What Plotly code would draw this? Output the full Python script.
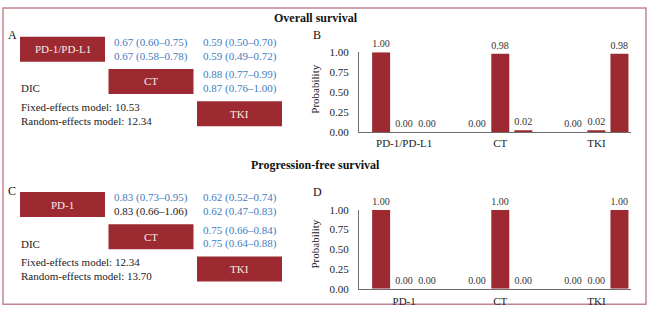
import plotly.graph_objects as go

W, H = 650, 314

# ---------------- data ----------------
os_treatments = ["PD-1/PD-L1", "CT", "TKI"]
pfs_treatments = ["PD-1", "CT", "TKI"]
rank_names = ["Rank 1", "Rank 2", "Rank 3"]

os_rank1 = [1.00, 0.00, 0.00]
os_rank2 = [0.00, 0.98, 0.02]
os_rank3 = [0.00, 0.02, 0.98]

pfs_rank1 = [1.00, 0.00, 0.00]
pfs_rank2 = [0.00, 1.00, 0.00]
pfs_rank3 = [0.00, 0.00, 1.00]

prob_ticks = [0.00, 0.25, 0.50, 0.75, 1.00]

# league table comparisons (row treatment vs column treatment)
pair_rows = [0, 0, 1]
pair_cols = [1, 2, 2]

os_fixed_hr = [0.67, 0.59, 0.88]
os_fixed_lo = [0.60, 0.50, 0.77]
os_fixed_hi = [0.75, 0.70, 0.99]
os_random_hr = [0.67, 0.59, 0.87]
os_random_lo = [0.58, 0.49, 0.76]
os_random_hi = [0.78, 0.72, 1.00]

pfs_fixed_hr = [0.83, 0.62, 0.75]
pfs_fixed_lo = [0.73, 0.52, 0.66]
pfs_fixed_hi = [0.95, 0.74, 0.84]
pfs_random_hr = [0.83, 0.62, 0.75]
pfs_random_lo = [0.66, 0.47, 0.64]
pfs_random_hi = [1.06, 0.83, 0.88]

os_dic = [10.53, 12.34]   # fixed, random
pfs_dic = [12.34, 13.70]

# ---------------- style ----------------
FONT = "Times New Roman, Liberation Serif, serif"
RED = "#9c2a30"
BLUE = "#3f7cbf"
TXT = "#222222"
BORDER = "#c4848d"


def px(x):
    return x / W


def py(y):
    return 1 - y / H


fig = go.Figure()

# ---------------- bar charts ----------------
for treat, ranks, xa, ya in [
    (os_treatments, [os_rank1, os_rank2, os_rank3], "x", "y"),
    (pfs_treatments, [pfs_rank1, pfs_rank2, pfs_rank3], "x2", "y2"),
]:
    for name, vals in zip(rank_names, ranks):
        fig.add_trace(go.Bar(
            x=treat, y=vals, name=name, xaxis=xa, yaxis=ya,
            marker=dict(color=RED, line=dict(width=0)),
            texttemplate="%{y:.2f}", textposition="outside",
            textfont=dict(family=FONT, size=11, color="#333333"),
            cliponaxis=False, showlegend=False, hoverinfo="x+y+name",
        ))

x_dom = [px(359), px(631)]
x_rng = [-0.47, 2.36]
axis_common = dict(showgrid=False, zeroline=False, showline=True,
                   linecolor="#6e6e6e", linewidth=1,
                   tickfont=dict(family=FONT, size=11, color=TXT))

fig.update_layout(
    xaxis=dict(domain=x_dom, anchor="y", type="category", range=x_rng,
               ticks="", ticklabelstandoff=1, **axis_common),
    yaxis=dict(domain=[py(131), py(48)], anchor="x", range=[0, 1.0],
               tickvals=prob_ticks, tickformat=".2f",
               ticks="outside", ticklen=7, tickcolor="rgba(0,0,0,0)",
               **axis_common),
    xaxis2=dict(domain=x_dom, anchor="y2", type="category", range=x_rng,
                ticks="", ticklabelstandoff=2, **axis_common),
    yaxis2=dict(domain=[py(294), py(212)], anchor="x2", range=[0, 1.0],
                tickvals=prob_ticks, tickformat=".2f",
                ticks="outside", ticklen=7, tickcolor="rgba(0,0,0,0)",
                **axis_common),
)

# ---------------- league tables ----------------
COLW, ROWH = 88.5, 33.5
hidden = dict(visible=False, showgrid=False, zeroline=False, fixedrange=True)
fig.update_layout(
    xaxis3=dict(domain=[0, px(299)], anchor="y3",
                range=[-62.5 / COLW, (299 - 62.5) / COLW], **hidden),
    yaxis3=dict(domain=[py(140), py(20)], anchor="x3",
                range=[(140 - 45) / ROWH, (20 - 45) / ROWH], **hidden),
    xaxis4=dict(domain=[0, px(299)], anchor="y4",
                range=[-62.5 / COLW, (299 - 62.5) / COLW], **hidden),
    yaxis4=dict(domain=[py(301), py(181)], anchor="x4",
                range=[(301 - 206.5) / ROWH, (181 - 206.5) / ROWH], **hidden),
)
# invisible trace to activate league axes
for xa, ya in [("x3", "y3"), ("x4", "y4")]:
    fig.add_trace(go.Scatter(x=[0], y=[0], xaxis=xa, yaxis=ya, mode="markers",
                             marker=dict(opacity=0), showlegend=False,
                             hoverinfo="skip"))

shapes = []
annotations = []

league_sets = [
    (os_treatments, "x3", "y3",
     [(os_fixed_hr, os_fixed_lo, os_fixed_hi), (os_random_hr, os_random_lo, os_random_hi)],
     os_dic),
    (pfs_treatments, "x4", "y4",
     [(pfs_fixed_hr, pfs_fixed_lo, pfs_fixed_hi), (pfs_random_hr, pfs_random_lo, pfs_random_hi)],
     pfs_dic),
]

BW, BH = 85 / COLW, 26 / ROWH
LINE_OFF = 7 / ROWH
for treat, xa, ya, models, dic in league_sets:
    for i, t in enumerate(treat):
        shapes.append(dict(type="rect", xref=xa, yref=ya,
                           x0=i - BW / 2, x1=i + BW / 2,
                           y0=i - BH / 2, y1=i + BH / 2,
                           fillcolor=RED, line=dict(width=0), layer="below"))
        annotations.append(dict(xref=xa, yref=ya, x=i, y=i, text=t,
                                xanchor="center", yanchor="middle",
                                showarrow=False,
                                font=dict(family=FONT, size=11, color="#f4eaea")))
    for k, (r, c) in enumerate(zip(pair_rows, pair_cols)):
        for m, (hr, lo, hi) in enumerate(models):
            col = "#1a1a1a" if hi[k] > 1.0 else BLUE
            annotations.append(dict(
                xref=xa, yref=ya, x=c, y=r + (-LINE_OFF if m == 0 else LINE_OFF),
                xanchor="center", yanchor="middle",
                text=f"{hr[k]:.2f} ({lo[k]:.2f}–{hi[k]:.2f})", showarrow=False,
                font=dict(family=FONT, size=11, color=col)))
    lx = -BW / 2 - 0.01
    for yy, txt in [(1.21, "DIC"),
                    (1.79, f"Fixed-effects model: {dic[0]:.2f}"),
                    (2.22, f"Random-effects model: {dic[1]:.2f}")]:
        annotations.append(dict(xref=xa, yref=ya, x=lx, y=yy, text=txt,
                                xanchor="left", yanchor="middle", showarrow=False,
                                font=dict(family=FONT, size=11, color=TXT)))

# titles, panel letters, y titles
for txt, x, y in [("Overall survival", 316, 12), ("Progression-free survival", 315, 165)]:
    annotations.append(dict(xref="paper", yref="paper", x=px(x), y=py(y), text=f"<b>{txt}</b>",
                            xanchor="center", yanchor="middle",
                            showarrow=False, font=dict(family=FONT, size=12, color="#111111")))
for txt, x, y in [("A", 12, 30), ("B", 317, 30), ("C", 12, 192), ("D", 317, 193)]:
    annotations.append(dict(xref="paper", yref="paper", x=px(x), y=py(y), text=txt,
                            xanchor="center", yanchor="middle",
                            showarrow=False, font=dict(family=FONT, size=12, color="#111111")))
for y in [87, 248]:
    annotations.append(dict(xref="paper", yref="paper", x=px(315), y=py(y), text="Probability",
                            xanchor="center", yanchor="middle",
                            textangle=-90, showarrow=False,
                            font=dict(family=FONT, size=11, color=TXT)))

# outer border (behind text)
shapes.append(dict(type="rect", xref="paper", yref="paper",
                   x0=px(3), x1=px(646), y0=py(310), y1=py(2),
                   line=dict(color=BORDER, width=1.5), fillcolor="rgba(0,0,0,0)",
                   layer="below"))

fig.update_layout(
    width=W, height=H, margin=dict(l=0, r=0, t=0, b=0),
    paper_bgcolor="white", plot_bgcolor="rgba(0,0,0,0)",
    barmode="group", bargap=0.28, bargroupgap=0.22,
    shapes=shapes, annotations=annotations,
    font=dict(family=FONT, size=11, color=TXT),
)

fig.write_html("out.html", config={"displayModeBar": False},
               post_script="document.body.style.margin='0';document.body.style.overflow='hidden';")
